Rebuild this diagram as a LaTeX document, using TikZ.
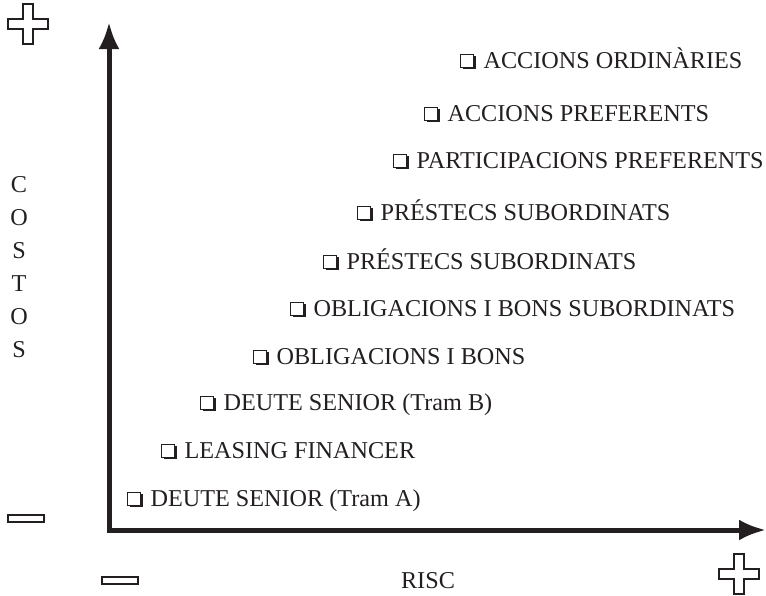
\documentclass[tikz,border=0pt]{standalone}
\usepackage{fontspec}
\setmainfont{Liberation Serif}
\usepackage{tikz}
\usetikzlibrary{arrows.meta,positioning,shadows}
\definecolor{ink}{HTML}{231F20}
\tikzset{>={Latex[length=27pt,width=21pt]}}

\begin{document}
\begin{tikzpicture}[x=1pt,y=-1pt]
        % coordinates in px of the sheet, y runs downward
        \tikzstyle{every node}=[inner sep=0pt, text=ink, font=\fontsize{24.2}{29}\selectfont]
        \tikzstyle{cbox}=[draw=ink, line width=1.4pt, fill=white, minimum size=13pt, anchor=south west,
                drop shadow={shadow xshift=2pt, shadow yshift=-2pt, fill=ink, opacity=1}]
        \tikzstyle{axis}=[ink, line width=5pt]
        \tikzstyle{sign}=[ink, line width=2.5pt, fill=white]
        \tikzset{plussign/.pic={
                \draw[sign] (-5,-20) -- (5,-20) -- (5,-5) -- (20,-5) -- (20,5) -- (5,5) -- (5,20)
                        -- (-5,20) -- (-5,5) -- (-20,5) -- (-20,-5) -- (-5,-5) -- cycle;}}
        \useasboundingbox (0,0) rectangle (766,595);

        \coordinate (O) at (109,530);
        \coordinate (ytop) at (109,22);
        \coordinate (xend) at (766,530);
        \draw[axis, <->] (ytop) |- (xend);

        \foreach \bx/\by/\k/\txt in {460/68/1/{ACCIONS ORDINÀRIES}, 424/121/2/{ACCIONS PREFERENTS},
                        393/168/3/{PARTICIPACIONS PREFERENTS}, 357/220/4/{PRÉSTECS SUBORDINATS},
                        323/269/5/{PRÉSTECS SUBORDINATS}, 290/316/6/{OBLIGACIONS I BONS SUBORDINATS},
                        253/364/7/{OBLIGACIONS I BONS}, 200/410/8/{DEUTE SENIOR (Tram B)},
                        161/458/9/{LEASING FINANCER}, 127/506/10/{DEUTE SENIOR (Tram A)}}{
                \node[cbox] (b\k) at (\bx,\by) {};
                \node[right=9pt of b\k.south east, anchor=base west] (t\k) {\txt};
        }

        \node[anchor=north, align=center, font=\fontsize{24.2}{33}\selectfont] (costos) at (19,176)
                {C\\O\\S\\T\\O\\S};
        \node[anchor=base] (risc) at (428,588) {RISC};

        \pic at (28,24) {plussign};
        \pic at (739,574) {plussign};
        \draw[sign] (8,515) rectangle (44,522);
        \draw[sign] (102,577) rectangle (138,584);
\end{tikzpicture}
\end{document}
